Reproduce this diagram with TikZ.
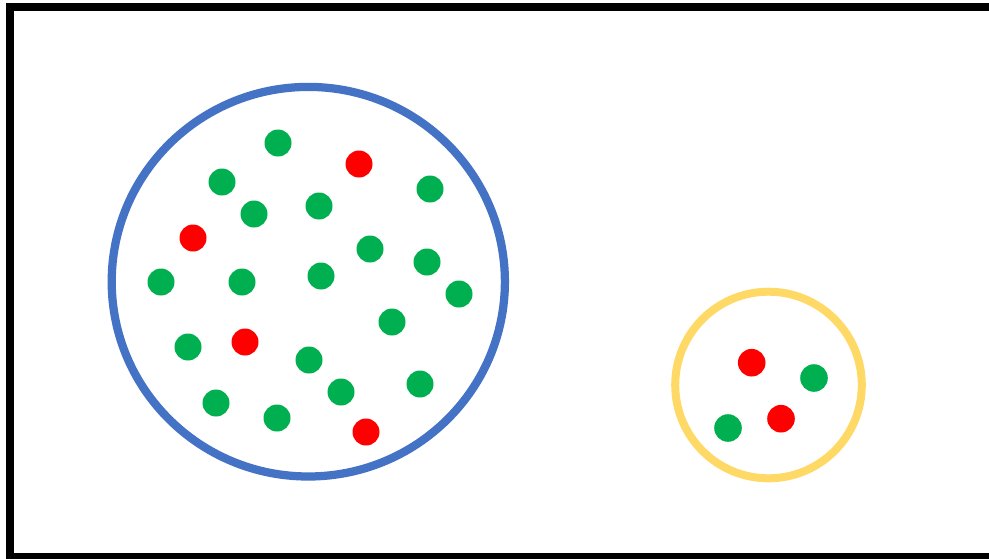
\documentclass[tikz,border=0pt]{standalone}
\usetikzlibrary{positioning}
\definecolor{setblue}{HTML}{4472C4}
\definecolor{setyellow}{HTML}{FFD966}
\definecolor{dotgreen}{HTML}{00B050}
\definecolor{dotred}{HTML}{FF0000}
\begin{document}
\begin{tikzpicture}[x=0.02cm,y=-0.02cm,
  gdot/.style={fill=dotgreen},
  rdot/.style={fill=dotred}]
\useasboundingbox (0,0) rectangle (989,558);
\clip (0,0) rectangle (989,558);
\fill[white] (0,0) rectangle (989,558);
\draw[line width=0.16cm] (10,6.5) rectangle (1010,557);
\coordinate (big) at (308.3,281.7);
\coordinate (small) at (768.5,385);
\draw[setblue,line width=0.165cm] (big) ellipse (196.6 and 194.8);
\draw[setyellow,line width=0.16cm] (small) circle (93.3);
% big set
\fill[gdot] (278,143) circle (13.5);
\fill[gdot] (222,182) circle (13.5);
\fill[gdot] (254,214) circle (13.5);
\fill[gdot] (319,206) circle (13.5);
\fill[gdot] (430,189) circle (13.5);
\fill[gdot] (161,282) circle (13.5);
\fill[gdot] (242,282) circle (13.5);
\fill[gdot] (321,276) circle (13.5);
\fill[gdot] (370,249) circle (13.5);
\fill[gdot] (427,262) circle (13.5);
\fill[gdot] (459,294) circle (13.5);
\fill[gdot] (188,347) circle (13.5);
\fill[gdot] (392,322) circle (13.5);
\fill[gdot] (309,360) circle (13.5);
\fill[gdot] (341,392) circle (13.5);
\fill[gdot] (420,384) circle (13.5);
\fill[gdot] (216,403) circle (13.5);
\fill[gdot] (277,418) circle (13.5);
\fill[rdot] (359,164) circle (13.5);
\fill[rdot] (193,238) circle (13.5);
\fill[rdot] (245,342) circle (13.5);
\fill[rdot] (366,432) circle (13.5);
% small set
\fill[rdot] (751.7,362.7) circle (13.8);
\fill[rdot] (781,418.7) circle (13.8);
\fill[gdot] (814,378) circle (13.8);
\fill[gdot] (728,428) circle (13.8);
\end{tikzpicture}
\end{document}
